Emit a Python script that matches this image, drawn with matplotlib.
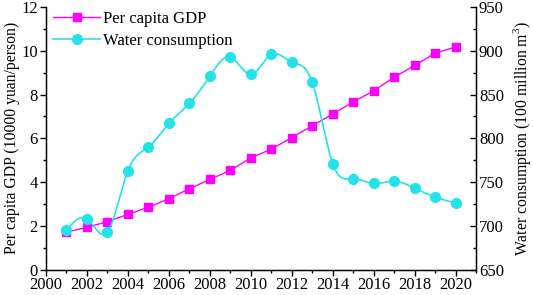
import numpy as np
import matplotlib
matplotlib.use('Agg')
import matplotlib.pyplot as plt
from matplotlib.ticker import MultipleLocator

plt.rcParams['font.family'] = ['Liberation Serif', 'DejaVu Serif']
plt.rcParams['mathtext.fontset'] = 'custom'
plt.rcParams['mathtext.rm'] = 'Liberation Serif'

years = np.arange(2001, 2021)
# per capita GDP (10000 yuan/person)
gdp = [1.72, 1.93, 2.19, 2.53, 2.85, 3.24, 3.70, 4.12, 4.54, 5.10,
       5.51, 6.03, 6.58, 7.11, 7.67, 8.17, 8.80, 9.33, 9.89, 10.18]
# water consumption (100 million m3)
water = [695, 708, 693, 763, 790, 817, 840, 871, 893, 873,
         896, 887, 864, 771, 754, 748.5, 751, 743, 733, 726]

MAGENTA = '#FF00FF'
CYAN = '#22E3EA'


def natural_spline(x, y, n=400):
    # simple natural cubic spline for the smoothed line
    x = np.asarray(x, float)
    y = np.asarray(y, float)
    k = len(x)
    h = np.diff(x)
    A = np.zeros((k, k))
    b = np.zeros(k)
    A[0, 0] = 1
    A[-1, -1] = 1
    for i in range(1, k - 1):
        A[i, i - 1] = h[i - 1]
        A[i, i] = 2 * (h[i - 1] + h[i])
        A[i, i + 1] = h[i]
        b[i] = 3 * ((y[i + 1] - y[i]) / h[i] - (y[i] - y[i - 1]) / h[i - 1])
    c = np.linalg.solve(A, b)
    xs = np.linspace(x[0], x[-1], n)
    idx = np.clip(np.searchsorted(x, xs) - 1, 0, k - 2)
    dx = xs - x[idx]
    bb = (y[idx + 1] - y[idx]) / h[idx] - h[idx] * (2 * c[idx] + c[idx + 1]) / 3
    dd = (c[idx + 1] - c[idx]) / (3 * h[idx])
    ys = y[idx] + bb * dx + c[idx] * dx ** 2 + dd * dx ** 3
    return xs, ys


fig = plt.figure(figsize=(5.33, 2.95), dpi=100)
ax = fig.add_axes([0.0863, 0.086, 0.807, 0.89])
ax2 = ax.twinx()

l1, = ax.plot(years, gdp, color=MAGENTA, lw=1.0, marker='s', ms=6, zorder=3)

xs, ys = natural_spline(years, water)
ax2.plot(xs, ys, color=CYAN, lw=1.2)
ax2.plot(years, water, ls='none', color=CYAN, marker='o', ms=7)
l2, = ax.plot([], [], color=CYAN, lw=1.2, marker='o', ms=7)

ax.set_xlim(2000, 2021)
ax.set_ylim(0, 12)
ax2.set_ylim(650, 950)

ax.xaxis.set_major_locator(MultipleLocator(2))
ax.xaxis.set_minor_locator(MultipleLocator(1))
ax.yaxis.set_major_locator(MultipleLocator(2))
ax.yaxis.set_minor_locator(MultipleLocator(1))
ax2.yaxis.set_major_locator(MultipleLocator(50))
ax2.yaxis.set_minor_locator(MultipleLocator(25))

ax.tick_params(axis='both', which='major', direction='out', length=4, width=1, labelsize=12, pad=2)
ax.tick_params(axis='x', which='major', pad=1.5)
ax.tick_params(axis='both', which='minor', direction='out', length=2.5, width=1)
ax2.tick_params(axis='y', which='major', direction='in', length=4, width=1, labelsize=12, pad=2)
ax2.tick_params(axis='y', which='minor', direction='in', length=2.5, width=1)

ax.spines['top'].set_visible(False)
ax2.spines['top'].set_visible(False)
for s in ['left', 'bottom']:
    ax.spines[s].set_linewidth(1)
ax2.spines['right'].set_linewidth(1)

ax.set_ylabel('Per capita GDP (10000 yuan/person)', fontsize=11.3, labelpad=1)
ax2.set_ylabel('Water consumption (100 million m$^3$)', fontsize=11.3, labelpad=5)

ax.legend([l1, l2], ['Per capita GDP', 'Water consumption'], loc='upper left',
          bbox_to_anchor=(-0.01, 1.03), frameon=False, fontsize=12,
          handlelength=2.8, handletextpad=0.2, labelspacing=0.35, borderpad=0.2)

fig.savefig('out.png', dpi=100)
